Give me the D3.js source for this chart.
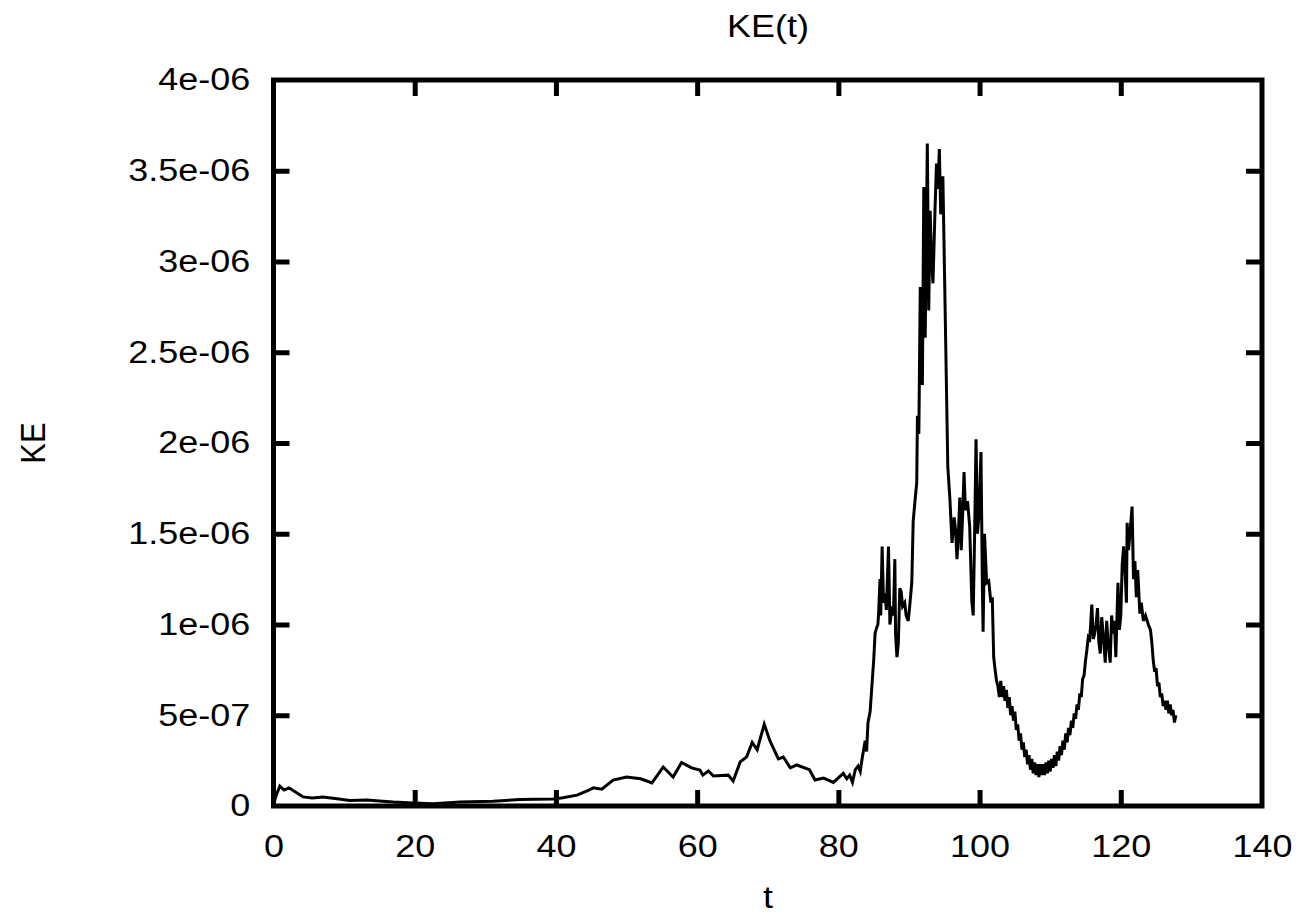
<!DOCTYPE html>
<html>
<head>
<meta charset="utf-8">
<script src="https://cdn.jsdelivr.net/npm/d3@7"></script>
<style>
  body { margin: 0; background: #fff; }
  text { font-family: "Liberation Sans", Arial, Helvetica, sans-serif; fill: #000; }
</style>
</head>
<body>
<script>
// KE(t); ke is in units of 1e-6
var tValues = [
  0, 0.3, 0.9, 1.5, 2.2, 3, 4.2, 5.5, 7, 9, 10.8, 13.2, 15, 17, 19.8, 22.6, 26.4, 31.1, 34.9, 37, 39.6, 41, 43, 44.5, 45.3, 46.5, 48.1, 50, 52, 53.6, 55.2, 56.6, 57.8, 59.2, 60.4, 60.8, 61.6, 62.3, 64.4, 65.1, 66.1, 67, 67.8, 68.5, 69.5, 70.3, 71.5, 72.2, 73.2, 74.1, 75.9, 76.7, 77.9, 79.3,
  80.7, 81.2, 81.6, 82, 82.4, 82.8, 83.1, 83.4, 83.8, 84.0, 84.2, 84.5, 84.8, 85.0, 85.2, 85.4, 85.6, 85.7, 85.9, 86.0, 86.2, 86.4, 86.6, 86.8, 87.1, 87.3, 87.6, 87.8, 88.0, 88.1, 88.3, 88.5, 88.7, 88.9, 89.1, 89.4, 89.6, 89.9, 90.1, 90.4, 90.5, 90.6, 90.9, 91.1, 91.2, 91.4, 91.6, 91.8, 91.9, 92.1, 92.3, 92.6, 92.8, 93.0, 93.2, 93.4, 93.7, 93.9, 94.1, 94.3, 94.5, 94.8, 95.1, 95.5, 95.8, 96.1, 96.4, 96.6, 96.8, 97.0, 97.2, 97.4, 97.6, 97.8, 98.0, 98.3, 98.6, 98.9, 99.1, 99.3, 99.5, 99.7, 99.9, 100.2, 100.4, 100.5, 100.7, 101.0, 101.3, 101.6, 101.8, 102.0, 102.2, 102.4, 102.6,
  102.8, 103.0, 103.2, 103.4, 103.6, 103.8, 104.0, 104.2, 104.4, 104.6, 104.8, 105.0, 105.2, 105.4, 105.6, 105.8, 106.0, 106.2, 106.4, 106.6, 106.8, 107.0, 107.2, 107.4, 107.6, 107.8, 108.0, 108.2, 108.4, 108.6, 108.8, 109.0, 109.2, 109.4, 109.6, 109.8, 110.0, 110.2, 110.4, 110.6, 110.8, 111.0, 111.2, 111.4, 111.6, 111.8, 112.0, 112.2, 112.4, 112.6, 112.8, 113.0, 113.2, 113.4, 113.6, 113.8, 114.0, 114.2, 114.4, 114.6, 114.8, 115.0,
  115.2, 115.4, 115.6, 115.9, 116.1, 116.3, 116.5, 116.7, 116.9, 117.1, 117.3, 117.5, 117.8, 118.0, 118.2, 118.5, 118.7, 118.9, 119.1, 119.3, 119.6, 119.8, 120.0, 120.2, 120.4, 120.6, 120.8, 120.9, 121.1, 121.3, 121.6, 121.8, 122.0, 122.2, 122.4, 122.7, 122.9, 123.2, 123.5, 123.9, 124.2, 124.4,
  124.6, 124.8, 125.0, 125.2, 125.4, 125.6, 125.8, 126.0, 126.2, 126.4, 126.6, 126.8, 127.0, 127.2, 127.4, 127.6, 127.8
];
var keValues = [
  0, 0.05, 0.11, 0.088, 0.1, 0.08, 0.05, 0.044, 0.05, 0.04, 0.03, 0.033, 0.028, 0.022, 0.017, 0.013, 0.022, 0.026, 0.036, 0.037, 0.038, 0.045, 0.06, 0.085, 0.1, 0.093, 0.143, 0.16, 0.15, 0.127, 0.215, 0.16, 0.24, 0.21, 0.198, 0.17, 0.193, 0.165, 0.17, 0.138, 0.243, 0.27, 0.35, 0.31, 0.45, 0.36, 0.26, 0.27, 0.21, 0.226, 0.2, 0.143, 0.154, 0.13,
  0.18, 0.15, 0.17, 0.13, 0.2, 0.22, 0.19, 0.27, 0.36, 0.30, 0.46, 0.52, 0.69, 0.80, 0.95, 0.98, 1.0, 1.06, 1.25, 1.05, 1.43, 1.12, 1.17, 1.08, 1.43, 1.0, 1.1, 1.05, 1.36, 0.95, 0.82, 0.9, 1.2, 1.18, 1.1, 1.12, 1.05, 1.02, 1.1, 1.23, 1.4, 1.57, 1.7, 1.78, 2.15, 2.05, 2.86, 2.5, 2.32, 3.41, 2.58, 3.65, 2.73, 3.28, 3.0, 2.88, 3.3, 3.54, 3.4, 3.62, 3.26, 3.47, 2.79, 1.87, 1.69, 1.45, 1.59, 1.52, 1.36, 1.5, 1.70, 1.41, 1.6, 1.84, 1.63, 1.68, 1.54, 1.13, 1.05, 1.5, 2.02, 1.5, 1.6, 1.95, 1.2, 0.96, 1.5, 1.23, 1.24, 1.12, 1.15, 0.82, 0.75, 0.69, 0.66,
  0.60, 0.69, 0.60, 0.66, 0.58, 0.64, 0.54, 0.60, 0.50, 0.55, 0.47, 0.52, 0.42, 0.45, 0.36, 0.40, 0.31, 0.35, 0.27, 0.31, 0.23, 0.28, 0.20, 0.26, 0.18, 0.24, 0.17, 0.23, 0.16, 0.23, 0.17, 0.23, 0.17, 0.24, 0.18, 0.25, 0.19, 0.26, 0.21, 0.28, 0.22, 0.30, 0.25, 0.33, 0.28, 0.36, 0.31, 0.40, 0.35, 0.43, 0.39, 0.47, 0.43, 0.51, 0.48, 0.56, 0.53, 0.62, 0.60, 0.70, 0.72, 0.80,
  0.86, 0.93, 0.92, 1.11, 0.92, 0.95, 1.0, 1.09, 0.90, 0.84, 1.04, 0.95, 0.79, 1.02, 0.9, 0.79, 1.05, 0.95, 1.02, 0.82, 1.23, 0.97, 1.05, 1.33, 1.43, 1.3, 1.12, 1.56, 1.41, 1.5, 1.65, 1.25, 1.35, 1.15, 1.30, 1.06, 1.12, 1.02, 1.05, 1.0, 0.97, 0.9,
  0.8, 0.74, 0.76, 0.66, 0.68, 0.60, 0.62, 0.55, 0.58, 0.53, 0.58, 0.51, 0.56, 0.50, 0.53, 0.46, 0.50
];

var xTicks = [0, 20, 40, 60, 80, 100, 120, 140];
var yTicks = [0, 5e-7, 1e-6, 1.5e-6, 2e-6, 2.5e-6, 3e-6, 3.5e-6, 4e-6];
var yTickLabels = ['0', '5e-07', '1e-06', '1.5e-06', '2e-06', '2.5e-06', '3e-06', '3.5e-06', '4e-06'];

(function() {
  var width = 1302, height = 915;
  var pLeft = 273.5, pRight = 1262, pTop = 80, pBottom = 806;
  var fontSize = 31, stretch = 1.16; // glyphs in the picture are a bit wider than tall

  var svg = d3.select('body').append('svg')
    .attr('width', width)
    .attr('height', height);

  var x = d3.scaleLinear().domain([0, 140]).range([pLeft, pRight]);
  var y = d3.scaleLinear().domain([0, 4e-6]).range([pBottom, pTop]);

  var data = tValues.map(function(t, i) { return { t: t, ke: keValues[i] * 1e-6 }; });

  var tickLen = 16;

  // axes: ticks point into the plot, mirrored on all four sides
  var gBottom = svg.append('g').attr('transform', 'translate(0,' + pBottom + ')')
    .call(d3.axisBottom(x).tickValues(xTicks).tickSize(-tickLen).tickPadding(29).tickFormat(d3.format('d')));
  var gTop = svg.append('g').attr('transform', 'translate(0,' + pTop + ')')
    .call(d3.axisTop(x).tickValues(xTicks.slice(1, -1)).tickSize(-tickLen).tickFormat(''));
  var gLeft = svg.append('g').attr('transform', 'translate(' + pLeft + ',0)')
    .call(d3.axisLeft(y).tickValues(yTicks).tickSize(-tickLen).tickPadding(20)
      .tickFormat(function(d, i) { return yTickLabels[i]; }));
  var gRight = svg.append('g').attr('transform', 'translate(' + pRight + ',0)')
    .call(d3.axisRight(y).tickValues(yTicks.slice(1, -1)).tickSize(-tickLen).tickFormat(''));

  // corner ticks are hidden by the frame anyway
  gBottom.selectAll('.tick').filter(function(d) { return d === 0 || d === 140; }).select('line').remove();
  gLeft.selectAll('.tick').filter(function(d) { return d === 0 || d === 4e-6; }).select('line').remove();

  [gBottom, gTop, gLeft, gRight].forEach(function(g) {
    g.select('.domain').remove();
    g.selectAll('.tick line').attr('stroke', '#000').attr('stroke-width', 5);
    g.selectAll('.tick text').attr('font-size', fontSize).attr('fill', '#000')
      .attr('transform', 'scale(' + stretch + ',1)')
      .style('font-family', '"Liberation Sans", Arial, sans-serif');
  });

  // data line
  svg.append('path')
    .datum(data)
    .attr('fill', 'none')
    .attr('stroke', '#000')
    .attr('stroke-width', 3)
    .attr('stroke-linejoin', 'miter')
    .attr('d', d3.line().x(function(d) { return x(d.t); }).y(function(d) { return y(d.ke); }));

  // frame
  svg.append('rect')
    .attr('x', pLeft).attr('y', pTop)
    .attr('width', pRight - pLeft).attr('height', pBottom - pTop)
    .attr('fill', 'none').attr('stroke', '#000').attr('stroke-width', 5);

  // titles
  svg.append('text').attr('transform', 'translate(768,37) scale(' + stretch + ',1)')
    .attr('text-anchor', 'middle').attr('font-size', fontSize).text('KE(t)');
  svg.append('text').attr('transform', 'translate(768,908) scale(' + stretch + ',1)')
    .attr('text-anchor', 'middle').attr('font-size', fontSize).text('t');
  svg.append('text').attr('transform', 'translate(45,443) scale(' + stretch + ',1) rotate(-90)')
    .attr('text-anchor', 'middle').attr('font-size', fontSize).text('KE');
})();
</script>
</body>
</html>
